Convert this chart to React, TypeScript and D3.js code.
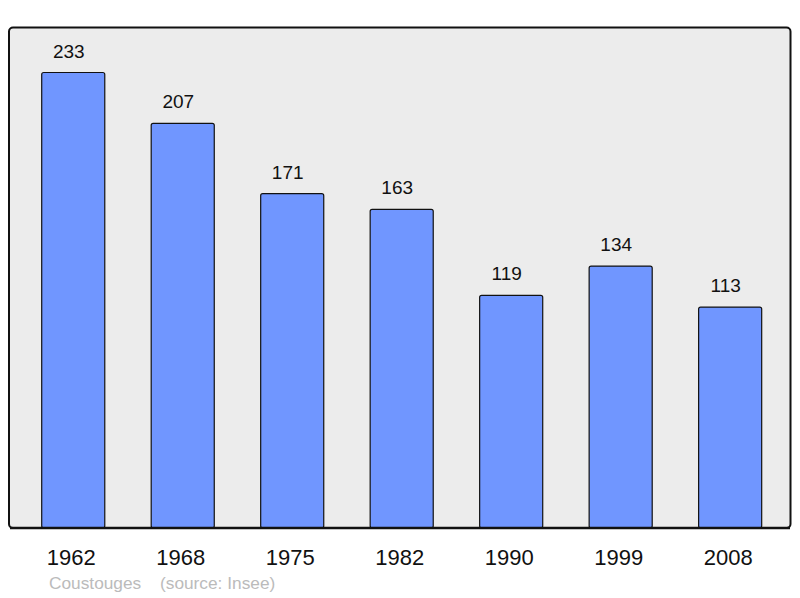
import React from "react";
import * as d3 from "d3";

const years: string[] = ["1962", "1968", "1975", "1982", "1990", "1999", "2008"];
const population: number[] = [233, 207, 171, 163, 119, 134, 113];
const footerName = "Coustouges";
const footerSource = "(source: Insee)";

export default function App() {
  const W = 800;
  const H = 598;
  const x = d3
    .scaleBand<string>()
    .domain(years)
    .range([18.5, 784.9])
    .paddingInner(0.424)
    .paddingOuter(0.212);
  const y = d3.scaleLinear().domain([0, 233]).range([528, 72.5]);
  const font = "'Liberation Sans', Arial, sans-serif";

  return (
    <svg
      width={W}
      height={H}
      style={{ position: "absolute", left: 0, top: 0, display: "block" }}
      fontFamily={font}
    >
      <rect x={0} y={0} width={W} height={H} fill="#ffffff" />
      <rect
        x={9}
        y={27.5}
        width={781.5}
        height={500.5}
        rx={4}
        ry={4}
        fill="#ececec"
        stroke="#111"
        strokeWidth={2}
      />
      {years.map((yr, i) => {
        const bx = x(yr) as number;
        const bw = x.bandwidth();
        const top = y(population[i]);
        return (
          <g key={yr}>
            <rect
              x={bx}
              y={top}
              width={bw}
              height={y(0) - top}
              rx={2}
              ry={2}
              fill="#7096ff"
              stroke="#111"
              strokeWidth={1.2}
            />
            <text
              x={bx + bw / 2 - 4.5}
              y={top - 15}
              textAnchor="middle"
              fontSize={19}
              fill="#111"
            >
              {population[i]}
            </text>
            <text
              x={bx + bw / 2 - 2}
              y={564.5}
              textAnchor="middle"
              fontSize={22}
              fill="#111"
            >
              {yr}
            </text>
          </g>
        );
      })}
      <line x1={10} x2={790} y1={528} y2={528} stroke="#111" strokeWidth={2.4} />
      <text x={49} y={589} fontSize={17.3} fill="#bbbbbb">
        {footerName}
      </text>
      <text x={160} y={589} fontSize={17.3} fill="#bbbbbb">
        {footerSource}
      </text>
    </svg>
  );
}
